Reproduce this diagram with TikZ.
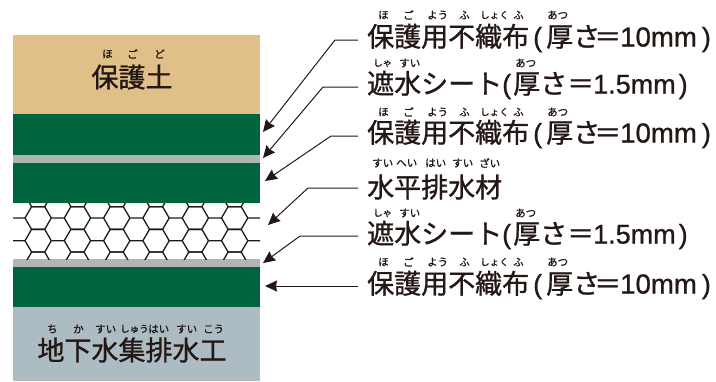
\documentclass[tikz,border=0pt]{standalone}
\usepackage{fontspec}
\setmainfont{Noto Sans CJK JP}[FakeBold=1.1]
\newfontfamily\lat{Liberation Sans}[FakeBold=0.9]
\usetikzlibrary{arrows.meta}
\definecolor{tan}{HTML}{E0C088}
\definecolor{grn}{HTML}{00653E}
\definecolor{gry}{HTML}{B4B4B4}
\definecolor{blu}{HTML}{ADBBC2}
\definecolor{ink}{HTML}{231815}
\newcommand{\lp}[2]{\makebox[#1pt][#2]{\lat(}}
\newcommand{\rp}[1]{\hspace{#1pt}{\lat)}}
\newcommand{\labA}{保護用不織布\lp{17}{c}厚さ\hspace{-6pt}＝\hspace{-1pt}{\lat\fontsize{27.6}{27}\selectfont 10mm}\rp{5}}
\newcommand{\labB}{遮水シート\lp{11}{l}厚さ＝\hspace{-1pt}{\lat 1.5mm}\rp{3}}
\tikzset{
 x=1pt,y=-1pt,
 layer/.style={draw=none,fill=#1,minimum width=247pt,inner sep=0pt,outer sep=0pt,anchor=north west},
 lab/.style={text=ink,anchor=west,inner sep=0pt,font=\fontsize{27}{27}\selectfont},
 big/.style={text=ink,anchor=center,inner sep=0pt,font=\fontsize{27}{27}\selectfont},
 rb/.style={text=ink,anchor=west,inner sep=0pt,font=\fontsize{10.5}{11}\selectfont},
 rs/.style={text=ink,anchor=west,inner sep=0pt,font=\fontsize{9.5}{10}\selectfont},
 lead/.style={draw=ink,line width=1pt,-{Stealth[inset=1pt,length=12pt,width=11pt]}},
 hexl/.style={draw=ink,line width=1.3pt},
}
\begin{document}
\begin{tikzpicture}
\useasboundingbox (0,0) rectangle (716,381);
\node[layer=tan,minimum height=79pt] (soil) at (13,35) {};
\node[layer=grn,minimum height=41pt] (f1) at (13,114) {};
\node[layer=gry,minimum height=8pt] (s1) at (13,155) {};
\node[layer=grn,minimum height=40pt] (f2) at (13,163) {};
\node[layer=white,minimum height=56pt] (d) at (13,203) {};
\node[layer=gry,minimum height=8pt] (s2) at (13,259) {};
\node[layer=grn,minimum height=40pt] (f3) at (13,267) {};
\node[layer=blu,minimum height=74pt] (w) at (13,307) {};
\begin{scope}
\clip (13,203) rectangle (260,259);
\foreach \i in {-1,...,6}{
 \pgfmathsetmacro{\a}{25+39.3*\i}
 \foreach \j in {-1,0,1,2}{
  \pgfmathsetmacro{\b}{218+22.7*\j}
  \draw[hexl] (\a-13,\b) -- (\a,\b) -- (\a+6.6,\b-11.35) -- (\a+19.7,\b-11.35) -- (\a+26.3,\b);
  \draw[hexl] (\a,\b) -- (\a+6.6,\b+11.35) -- (\a+19.7,\b+11.35) -- (\a+26.3,\b);
 }
}
\end{scope}
\node[big] (t1) at (132,77) {保護土};
\node[rb] at (102,54) {ほ};
\node[rb] at (127,54) {ご};
\node[rb] at (154,54) {ど};
\node[big] (t2) at (132,350) {地下水集排水工};
\node[rb] at (47,329) {ち};
\node[rb] at (73,329) {か};
\node[rb] at (95,329) {すい};
\node[rs] at (120,329) {しゅう};
\node[rb] at (148,329) {はい};
\node[rb] at (176,329) {すい};
\node[rb] at (203,329) {こう};
\node[lab] (a) at (367,38) {\labA};
\node[lab] (b) at (367,85) {\labB};
\node[lab] (c) at (367,134) {\labA};
\node[lab] (e) at (367,187) {水平排水材};
\node[lab] (g) at (367,235) {\labB};
\node[lab] (h) at (367,285) {\labA};
\foreach \y in {15,112,262}{
 \node[rb] at (378,\y) {ほ};
 \node[rb] at (403,\y) {ご};
 \node[rb] at (427,\y) {よう};
 \node[rb] at (459,\y) {ふ};
 \node[rs] at (480,\y) {しょく};
 \node[rb] at (513,\y) {ふ};
 \node[rb] at (547,\y) {あつ};
}
\foreach \y in {63,213}{
 \node[rs] at (373,\y) {しゃ};
 \node[rb] at (399,\y) {すい};
 \node[rb] at (515,\y) {あつ};
}
\node[rb] at (372,163) {すい};
\node[rb] at (396,163) {へい};
\node[rb] at (425,163) {はい};
\node[rb] at (452,163) {すい};
\node[rb] at (479,163) {ざい};
\coordinate (ta) at (263,132);
\coordinate (tb) at (263,158);
\coordinate (tc) at (265,181);
\coordinate (te) at (268,225);
\coordinate (tg) at (263,263);
\coordinate (th) at (265,286);
\coordinate (sa) at (358,40);
\coordinate (sb) at (358,87);
\coordinate (sc) at (358,136);
\coordinate (se) at (358,188);
\coordinate (sg) at (358,236);
\coordinate (sh) at (358,286);
\draw[lead] (sa) -- (335,40) -- (ta);
\draw[lead] (sb) -- (323,87) -- (tb);
\draw[lead] (sc) -- (331,136) -- (tc);
\draw[lead] (se) -- (308,188) -- (te);
\draw[lead] (sg) -- (300,236) -- (tg);
\draw[lead] (sh) -- (th);
\end{tikzpicture}
\end{document}
